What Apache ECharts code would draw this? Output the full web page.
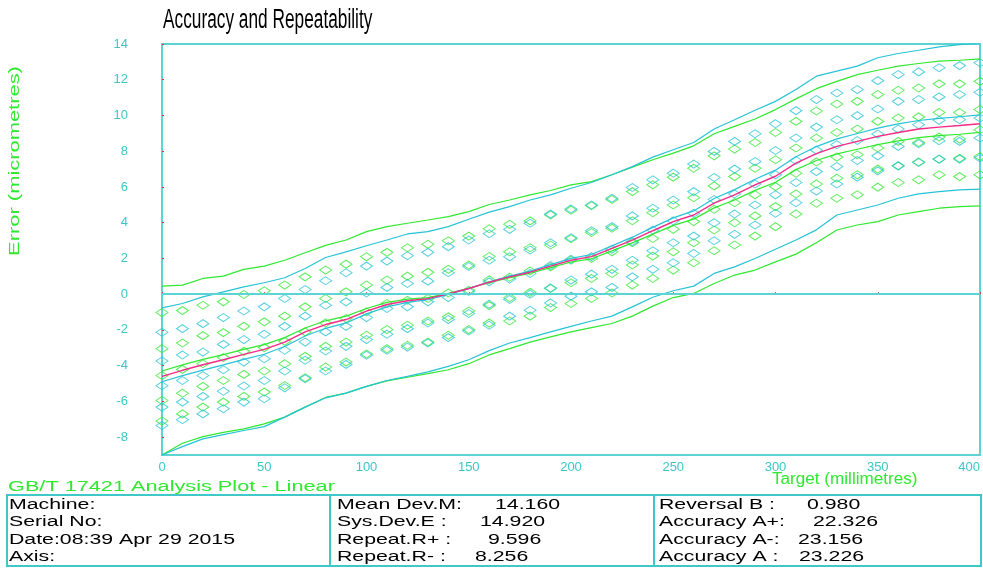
<!DOCTYPE html>
<html>
<head>
<meta charset="utf-8">
<script src="https://cdn.jsdelivr.net/npm/echarts@6/dist/echarts.min.js"></script>
<style>
  html, body { margin: 0; padding: 0; background: #fff; }
  #chart { width: 983px; height: 568px; }
</style>
</head>
<body>
<div id="chart"></div>
<script>
// Target positions (mm)
const targets = [0,10,20,30,40,50,60,70,80,90,100,110,120,130,140,150,160,170,180,190,200,
  210,220,230,240,250,260,270,280,290,300,310,320,330,340,350,360,370,380,390,400];

// Forward runs (µm)
const fwdRun1 = [-1.03,-0.92,-0.62,-0.43,-0.02,0.19,0.51,0.97,1.35,1.68,2.09,2.34,2.60,2.79,2.99,3.25,3.66,3.91,4.10,4.43,4.70,
  4.95,5.30,5.74,6.12,6.55,7.05,7.74,8.12,8.49,9.05,9.67,10.25,10.64,10.79,11.17,11.41,11.54,11.77,11.77,11.91];
const fwdRun2 = [-3.05,-2.73,-2.32,-2.15,-1.80,-1.55,-1.23,-0.71,-0.24,0.13,0.51,0.79,1.01,1.22,1.39,1.63,2.11,2.37,2.60,2.75,3.10,
  3.45,3.69,4.11,4.56,4.99,5.40,6.06,6.58,7.05,7.52,8.18,8.74,9.05,9.24,9.67,9.86,9.92,10.17,10.17,10.33];
const fwdRun3 = [-4.55,-4.21,-3.89,-3.55,-3.20,-2.99,-2.64,-2.11,-1.61,-1.36,-0.99,-0.52,-0.34,-0.24,0.07,0.22,0.80,0.95,1.30,1.53,1.90,
  2.00,2.37,2.88,3.12,3.63,4.06,4.75,5.12,5.56,6.02,6.77,7.40,7.67,7.80,8.18,8.55,8.49,8.79,8.68,9.20];
const fwdRun4 = [-5.95,-5.54,-5.16,-4.83,-4.49,-4.30,-3.89,-3.48,-2.92,-2.68,-2.30,-1.98,-1.74,-1.50,-1.27,-0.94,-0.64,-0.20,0.10,0.32,0.64,
  0.88,1.16,1.63,2.13,2.37,2.88,3.59,4.00,4.38,4.90,5.61,6.17,6.49,6.68,7.00,7.18,7.40,7.55,7.60,7.70];
const fwdRun5 = [-7.10,-6.70,-6.32,-6.04,-5.72,-5.48,-5.11,-4.68,-4.08,-3.80,-3.35,-3.05,-2.86,-2.68,-2.30,-1.98,-1.62,-1.50,-1.23,-0.75,-0.52,
  -0.24,0.07,0.51,0.88,1.35,1.76,2.43,2.75,3.25,3.78,4.49,5.09,5.37,5.56,5.99,6.25,6.40,6.68,6.58,6.68];

// Reverse runs (µm)
const revRun1 = [-2.13,-1.93,-1.65,-1.31,-0.94,-0.71,-0.24,0.26,0.75,1.20,1.57,1.85,2.15,2.34,2.66,3.03,3.38,3.63,3.97,4.48,4.77,
  4.99,5.37,5.97,6.40,6.77,7.28,7.99,8.55,8.98,9.54,10.27,10.89,11.26,11.45,11.95,12.29,12.44,12.67,12.79,12.95];
const revRun2 = [-3.74,-3.40,-3.24,-2.81,-2.54,-2.24,-1.80,-1.23,-0.62,-0.43,0.07,0.38,0.60,0.73,1.20,1.55,1.90,2.09,2.47,2.88,3.16,
  3.55,3.78,4.38,4.81,5.27,5.74,6.53,7.00,7.42,8.04,8.74,9.35,9.76,9.99,10.36,10.79,10.89,11.04,11.17,11.30];
const revRun3 = [-5.12,-4.83,-4.55,-4.23,-3.80,-3.61,-3.14,-2.68,-2.11,-1.80,-1.31,-0.80,-0.71,-0.43,-0.19,0.15,0.69,0.85,1.16,1.60,1.95,
  2.10,2.51,2.94,3.59,4.11,4.53,5.30,5.61,6.17,6.68,7.48,8.06,8.36,8.60,8.96,9.24,9.48,9.73,9.76,9.86];
const revRun4 = [-6.32,-6.04,-5.72,-5.43,-5.14,-4.83,-4.30,-3.70,-3.18,-2.92,-2.54,-2.24,-1.93,-1.61,-1.42,-1.08,-0.56,-0.30,0.00,0.35,0.79,
  1.12,1.39,1.90,2.43,2.88,3.25,4.00,4.49,4.99,5.56,6.25,6.86,7.14,7.48,7.74,8.27,8.42,8.59,8.55,8.74];
const revRun5 = [-7.35,-7.03,-6.70,-6.41,-6.04,-5.85,-5.24,-4.73,-4.30,-3.93,-3.42,-3.14,-2.96,-2.73,-2.43,-2.06,-1.74,-1.23,-0.90,-0.49,-0.11,
  0.13,0.38,0.97,1.39,1.76,2.28,2.99,3.35,3.87,4.53,5.12,5.77,6.17,6.55,6.90,7.18,7.37,7.56,7.56,7.62];

// Mean deviations
const meanAll = [-4.60,-4.26,-3.95,-3.67,-3.37,-3.09,-2.68,-2.11,-1.70,-1.42,-0.95,-0.58,-0.37,-0.25,0.02,0.32,0.67,0.97,1.23,1.57,1.90,
  2.10,2.56,3.03,3.55,4.06,4.43,5.09,5.56,6.12,6.60,7.33,7.87,8.27,8.55,8.83,9.05,9.24,9.35,9.44,9.54];
const meanFwd = [-4.30,-3.96,-3.65,-3.38,-3.09,-2.82,-2.43,-1.89,-1.49,-1.23,-0.80,-0.46,-0.28,-0.19,0.05,0.33,0.65,0.93,1.17,1.49,1.80,
  1.98,2.42,2.87,3.36,3.85,4.20,4.83,5.27,5.81,6.26,6.97,7.48,7.85,8.11,8.37,8.58,8.76,8.87,8.95,9.05];
const meanRev = [-4.90,-4.56,-4.25,-3.96,-3.65,-3.36,-2.93,-2.34,-1.91,-1.61,-1.10,-0.71,-0.46,-0.31,-0.01,0.31,0.69,1.01,1.29,1.65,2.00,
  2.22,2.70,3.19,3.74,4.27,4.66,5.35,5.85,6.43,6.94,7.69,8.26,8.69,8.99,9.29,9.53,9.72,9.84,9.93,10.03];

// Mean ± 2s envelopes
const upperFwd = [0.45,0.51,0.88,1.01,1.39,1.57,1.90,2.32,2.73,3.03,3.50,3.78,3.97,4.15,4.34,4.62,5.02,5.27,5.56,5.80,6.12,
  6.30,6.68,7.11,7.52,7.89,8.30,8.98,9.39,9.80,10.33,10.93,11.50,11.91,12.29,12.53,12.76,12.91,13.04,13.09,13.17];
const upperRev = [-0.77,-0.52,-0.15,0.13,0.41,0.64,0.92,1.44,2.05,2.37,2.71,3.03,3.37,3.50,3.78,4.19,4.59,4.90,5.27,5.56,5.93,
  6.25,6.68,7.14,7.67,8.08,8.49,9.24,9.76,10.29,10.79,11.45,12.20,12.48,12.76,13.23,13.47,13.65,13.84,13.97,14.03];
const lowerFwd = [-9.00,-8.34,-7.97,-7.73,-7.54,-7.26,-6.88,-6.32,-5.78,-5.54,-5.16,-4.85,-4.65,-4.45,-4.23,-3.89,-3.40,-3.05,-2.68,-2.39,-2.11,
  -1.87,-1.64,-1.23,-0.67,-0.19,0.04,0.60,1.07,1.35,1.81,2.24,2.88,3.59,3.87,4.06,4.43,4.62,4.81,4.90,4.94];
const lowerRev = [-9.00,-8.53,-8.10,-7.86,-7.63,-7.41,-6.88,-6.32,-5.80,-5.54,-5.16,-4.83,-4.60,-4.35,-4.04,-3.67,-3.16,-2.73,-2.43,-2.11,-1.80,
  -1.50,-1.23,-0.71,-0.17,0.19,0.45,1.16,1.53,2.00,2.51,3.03,3.60,4.43,4.71,4.99,5.37,5.61,5.74,5.84,5.88];

// Axis tick labels
const yTickValues = [-8,-6,-4,-2,0,2,4,6,8,10,12,14];
const xTickValues = [0,50,100,150,200,250,300,350,400];

// Statistics table
const infoLabels = ['Machine:', 'Serial No:', 'Date:08:39 Apr 29 2015', 'Axis:'];
const devLabels = ['Mean Dev.M:', 'Sys.Dev.E :', 'Repeat.R+ :', 'Repeat.R- :'];
const devValues = ['14.160', '14.920', '9.596', '8.256'];
const accLabels = ['Reversal B :', 'Accuracy A+:', 'Accuracy A-:', 'Accuracy A :'];
const accValues = ['0.980', '22.326', '23.156', '23.226'];

const GREEN = '#2fe82f';
const CYAN = '#26c3d6';
const PINK = '#f52a86';
const FRAME = '#5cd4d4';
const LABEL = '#3cc6c6';
const FONT = '"Liberation Sans", Arial, sans-serif';

const pairs = ys => targets.map((x, i) => [x, ys[i]]);

function runSeries(name, ys, color) {
  return {
    name, type: 'scatter', data: pairs(ys),
    symbol: 'diamond', symbolSize: [12, 8],
    itemStyle: { color: 'rgba(0,0,0,0)', borderColor: color, borderWidth: 1 },
    z: 2, silent: true
  };
}
function lineSeries(name, ys, color, width, z) {
  return {
    name, type: 'line', data: pairs(ys), showSymbol: false, symbol: 'none',
    lineStyle: { color, width }, z: z || 3, silent: true
  };
}

const series = [
  runSeries('F1', fwdRun1, GREEN), runSeries('F2', fwdRun2, GREEN), runSeries('F3', fwdRun3, GREEN),
  runSeries('F4', fwdRun4, GREEN), runSeries('F5', fwdRun5, GREEN),
  runSeries('R1', revRun1, CYAN), runSeries('R2', revRun2, CYAN), runSeries('R3', revRun3, CYAN),
  runSeries('R4', revRun4, CYAN), runSeries('R5', revRun5, CYAN),
  lineSeries('upperFwd', upperFwd, GREEN, 1.2),
  lineSeries('lowerFwd', lowerFwd, GREEN, 1.2),
  lineSeries('upperRev', upperRev, CYAN, 1.2),
  lineSeries('lowerRev', lowerRev, CYAN, 1.2),
  lineSeries('meanFwd', meanFwd, GREEN, 1.2),
  lineSeries('meanRev', meanRev, CYAN, 1.2),
  lineSeries('meanAll', meanAll, PINK, 1.4, 4)
];
// zero reference line
series[series.length - 1].markLine = {
  silent: true, symbol: 'none', animation: false,
  label: { show: false },
  lineStyle: { color: FRAME, width: 2, type: 'solid' },
  data: [{ yAxis: 0 }]
};

// Free-standing text and the statistics table
function txt(text, x, y, opts) {
  const o = opts || {};
  return {
    type: 'text', x, y, scaleX: o.scaleX || 1, rotation: o.rotation || 0, silent: true,
    style: {
      text, fill: o.color || '#000', font: (o.size || 14) + 'px ' + FONT,
      align: o.align || 'left', verticalAlign: 'middle',
      textAlign: o.align || 'left', textVerticalAlign: 'middle'
    }
  };
}

const rowY = [505.5, 522.5, 540, 557.5];
const devValueX = [495, 480, 488, 475];
const accValueX = [807, 813, 798, 799];
const graphics = [
  txt('Accuracy and Repeatability', 163, 21, { size: 27, scaleX: 0.64 }),
  txt('Error (micrometres)', 15, 161, { size: 15, scaleX: 1.46, rotation: Math.PI / 2, align: 'center', color: GREEN }),
  txt('Target (millimetres)', 772, 480, { size: 16, scaleX: 1.07, color: GREEN }),
  txt('GB/T 17421 Analysis Plot - Linear', 8, 487, { size: 14, scaleX: 1.55, color: GREEN }),
  { type: 'rect', silent: true, shape: { x: 7, y: 495, width: 974, height: 71 },
    style: { fill: 'none', stroke: '#3fc8c8', lineWidth: 2 } },
  { type: 'line', silent: true, shape: { x1: 330, y1: 495, x2: 330, y2: 566 },
    style: { stroke: '#3fc8c8', lineWidth: 2 } },
  { type: 'line', silent: true, shape: { x1: 654, y1: 495, x2: 654, y2: 566 },
    style: { stroke: '#3fc8c8', lineWidth: 2 } }
];
rowY.forEach((y, i) => {
  graphics.push(txt(infoLabels[i], 9, y, { scaleX: 1.52 }));
  graphics.push(txt(devLabels[i], 337, y, { scaleX: 1.52 }));
  graphics.push(txt(devValues[i], devValueX[i], y, { scaleX: 1.52 }));
  graphics.push(txt(accLabels[i], 659, y, { scaleX: 1.52 }));
  graphics.push(txt(accValues[i], accValueX[i], y, { scaleX: 1.52 }));
});

const chart = echarts.init(document.getElementById('chart'), null, { renderer: 'canvas' });
chart.setOption({
  animation: false,
  backgroundColor: '#fff',
  grid: { left: 162, right: 1, top: 44, bottom: 113, show: true, borderColor: FRAME, borderWidth: 2 },
  xAxis: {
    type: 'value', min: 0, max: 400, interval: 50,
    axisLine: { show: true, lineStyle: { color: FRAME, width: 2 } },
    axisTick: { show: true, inside: true, length: 2, customValues: xTickValues, lineStyle: { color: '#e03030', width: 1 } },
    axisLabel: { color: LABEL, fontSize: 13, fontFamily: FONT, margin: 6, customValues: xTickValues, alignMaxLabel: 'right' },
    splitLine: { show: false }
  },
  yAxis: {
    type: 'value', min: -9, max: 14,
    axisLine: { show: true, lineStyle: { color: FRAME, width: 2 } },
    axisTick: { show: true, inside: true, length: 2, customValues: yTickValues, lineStyle: { color: '#e03030', width: 1 } },
    axisLabel: { color: LABEL, fontSize: 13, fontFamily: FONT, margin: 34, customValues: yTickValues },
    splitLine: { show: false }
  },
  graphic: graphics,
  series
});
</script>
</body>
</html>
